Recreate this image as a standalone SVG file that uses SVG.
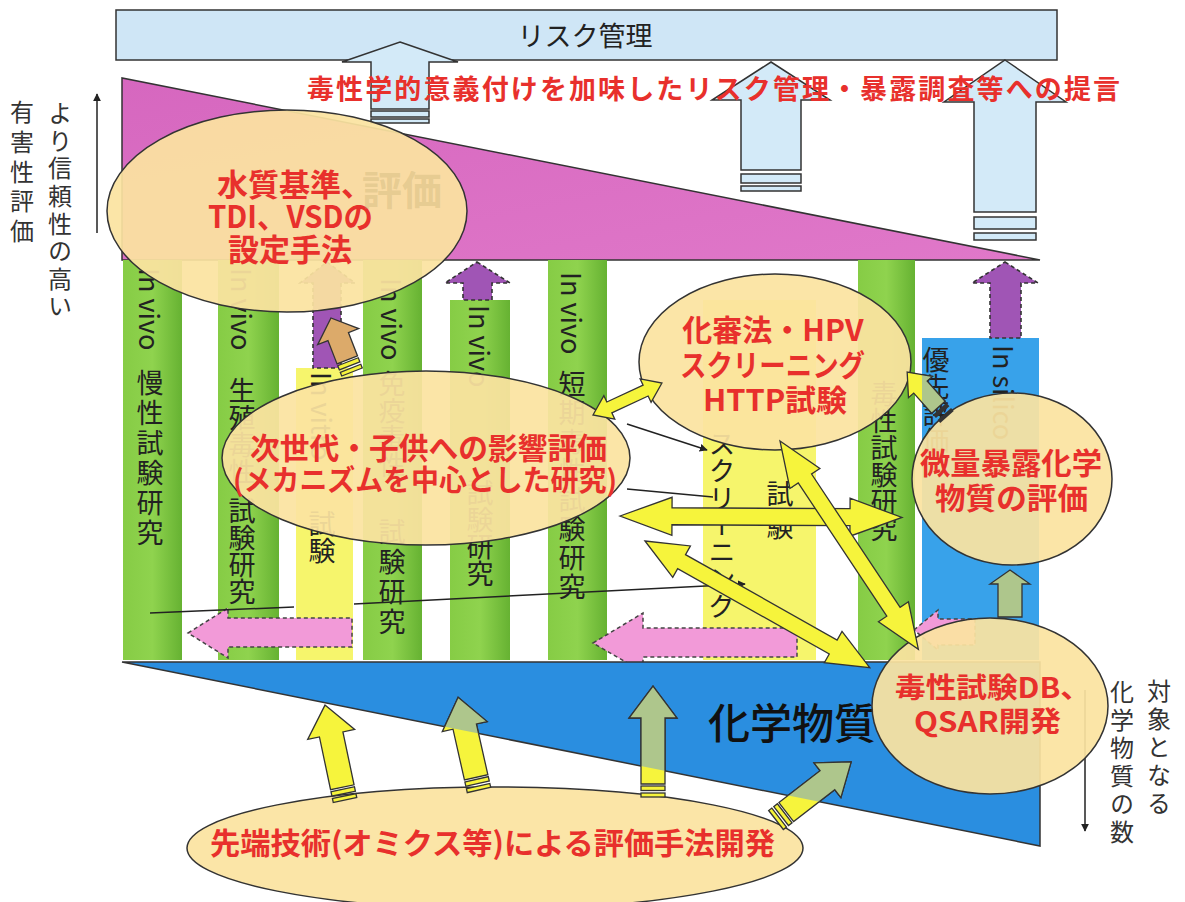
<svg xmlns="http://www.w3.org/2000/svg" width="1185" height="902" viewBox="0 0 1185 902">
<style>
.jp{font-family:"Noto Sans CJK JP","Noto Sans",sans-serif}
.ct{font-family:"Noto Sans CJK JP","Noto Sans",sans-serif;font-size:27px;fill:#222;writing-mode:vertical-rl}
.lab{font-family:"Noto Sans CJK JP","Noto Sans",sans-serif;font-size:24px;fill:#333;writing-mode:vertical-rl}
.et{font-family:"Noto Sans CJK JP","Noto Sans",sans-serif;font-weight:700;fill:#e8302c}
.ell{fill:#fbe3a0;fill-opacity:0.93;stroke:#333;stroke-width:1.5}
.lb{fill:#d3eaf8;stroke:#333;stroke-width:1.5}
.ya{fill:#f6f43c;stroke:#333;stroke-width:1.3;stroke-linejoin:miter}
.ga{fill:#aec68c;stroke:#333;stroke-width:1.3}
.pa{fill:#a055b5;stroke:#333;stroke-width:1.6;stroke-dasharray:4 3}
.ka{fill:#f29ad8;stroke:#444;stroke-width:1.5;stroke-dasharray:4 3}
.ln{fill:none;stroke:#222;stroke-width:1.5}
.green{fill:url(#gg)}
.yel{fill:#f6f56c}
</style>
<defs>
<linearGradient id="gg" x1="0" y1="0" x2="1" y2="0">
<stop offset="0" stop-color="#86cc45"/><stop offset="0.5" stop-color="#8fd34e"/><stop offset="1" stop-color="#66b232"/>
</linearGradient>
<linearGradient id="pk" x1="0" y1="0" x2="1" y2="1">
<stop offset="0" stop-color="#d667bf"/><stop offset="1" stop-color="#e078c9"/>
</linearGradient>
<marker id="ah" viewBox="0 0 10 10" refX="9" refY="5" markerWidth="8" markerHeight="8" orient="auto" markerUnits="userSpaceOnUse">
<path d="M0,0 L10,5 L0,10 Z" fill="#222"/>
</marker>
<clipPath id="blueClip"><polygon points="122,662 1040,662 1040,846"/></clipPath>
<clipPath id="colClip"><rect x="922" y="338" width="117" height="322"/></clipPath>
</defs>

<g id="risk-management">
<rect x="116" y="10" width="941" height="50" fill="#cfe6f6" stroke="#333" stroke-width="1.5"/>
<text class="jp" x="585" y="46" font-size="27" fill="#222" text-anchor="middle">リスク管理</text>
</g>

<g id="up-arrows-top">
<path class="lb" d="M400,42 L458,62 L429,62 L429,109 L371,109 L371,62 L342,62 Z"/>
<rect class="lb" x="371" y="111" width="58" height="6"/>
<rect class="lb" x="371" y="119" width="58" height="4"/>
<path class="lb" d="M771,62 L830,100 L801,100 L801,170 L741,170 L741,100 L712,100 Z"/>
<rect class="lb" x="741" y="174" width="60" height="9"/>
<rect class="lb" x="741" y="186" width="60" height="5"/>
<path class="lb" d="M1005,60 L1066,102 L1036,102 L1036,212 L974,212 L974,102 L944,102 Z"/>
<rect class="lb" x="974" y="217" width="62" height="12"/>
<rect class="lb" x="974" y="233" width="62" height="7"/>
</g>

<g id="proposal">
<text class="et" x="307" y="99" font-size="27" textLength="813" lengthAdjust="spacing">毒性学的意義付けを加味したリスク管理・暴露調査等への提言</text>
</g>

<g id="hazard-triangle">
<polygon points="122,78 122,260 1040,260" fill="url(#pk)" stroke="#333" stroke-width="1.5"/>
</g>

<g id="axis-left">
<line class="ln" x1="97" y1="233" x2="97" y2="94" marker-end="url(#ah)"/>
<text class="lab" x="60" y="101" letter-spacing="3.6">より信頼性の高い</text>
<text class="lab" x="22" y="100" letter-spacing="5.7">有害性評価</text>
</g>

<g id="columns">
<g id="col1"><rect class="green" x="123" y="260" width="59" height="400"/>
<text class="ct" x="150" y="268">In vivo</text><text class="ct" x="150" y="369" letter-spacing="3">慢性試験研究</text></g>
<g id="col2"><rect class="green" x="218" y="260" width="61" height="400"/>
<text class="ct" x="242" y="268">In vivo</text><text class="ct" x="242" y="377">生殖毒性</text><text class="ct" x="242" y="497">試験研究</text></g>
<g id="col3"><rect class="yel" x="296" y="368" width="57" height="292"/>
<text class="ct" x="322" y="372">In vitro</text><text class="ct" x="322" y="510">試験</text></g>
<g id="col4"><rect class="green" x="363" y="260" width="59" height="400"/>
<text class="ct" x="392" y="278">In vivo</text><text class="ct" x="392" y="370">免疫毒性</text><text class="ct" x="392" y="518" letter-spacing="3">試験研究</text></g>
<g id="col5"><rect class="green" x="450" y="300" width="60" height="360"/>
<text class="ct" x="480" y="305">In vivo</text><text class="ct" x="480" y="479">試験研究</text></g>
<g id="col6"><rect class="green" x="548" y="260" width="59" height="400"/>
<text class="ct" x="572" y="272">In vivo</text><text class="ct" x="572" y="370" letter-spacing="2">短期毒性試験研究</text></g>
<g id="col7"><rect class="yel" x="703" y="300" width="113" height="360"/>
<text class="ct" x="722" y="430">スクリーニング</text><text class="ct" x="780" y="480" letter-spacing="6">試験</text></g>
<g id="col8"><rect class="green" x="858" y="260" width="57" height="400"/>
<text class="ct" x="884" y="380">毒性試験研究</text></g>
<g id="col9"><rect x="922" y="338" width="117" height="322" fill="#38a2ea"/>
<text class="ct" x="936" y="346">優先評価</text><text class="ct" x="1004" y="345">In silico</text></g>
</g>

<g id="purple-arrows">
<path class="pa" d="M327,262 L355,283 L341,283 L341,368 L313,368 L313,283 L300,283 Z"/>
<path class="pa" d="M477,262 L510,283 L492,283 L492,300 L463,300 L463,283 L445,283 Z"/>
<path class="pa" d="M1005,262 L1038,283 L1021,283 L1021,338 L990,338 L990,283 L972,283 Z"/>
</g>

<g id="pink-arrows">
<path class="ka" d="M188,633 L228,608 L228,618 L352,618 L352,647 L228,647 L228,658 Z"/>
<path class="ka" d="M593,643 L643,613 L643,628 L797,628 L797,657 L643,657 L643,672 Z"/>
<path class="ka" d="M914,630 L938,610 L938,619 L975,619 L975,645 L938,645 L938,650 Z"/>
</g>

<g id="chemicals-triangle">
<polygon points="122,662 1040,662 1040,846" fill="#2a8ee0" stroke="#333" stroke-width="1.5"/>
<text class="jp" x="708" y="739" font-size="42" font-weight="500" fill="#111">化学物質</text>
</g>

<g id="axis-right">
<line class="ln" x1="1085" y1="690" x2="1085" y2="831" marker-end="url(#ah)"/>
<text class="lab" x="1159" y="679" font-size="25" letter-spacing="4">対象となる</text>
<text class="lab" x="1122" y="680" font-size="25" letter-spacing="4">化学物質の数</text>
</g>

<g id="node-water-quality">
<ellipse class="ell" cx="287" cy="211" rx="180" ry="101"/>
<text class="et" x="217" y="196" font-size="31">水質基準、</text>
<text class="et" x="208" y="228" font-size="31" textLength="165" lengthAdjust="spacingAndGlyphs">TDI、VSDの</text>
<text class="et" x="228" y="261" font-size="31">設定手法</text>
</g>
<text class="jp" x="362" y="205" font-size="40" font-weight="700" fill="#b9a66a" fill-opacity="0.3">評価</text>

<g id="node-next-generation">
<ellipse class="ell" cx="426" cy="458" rx="204" ry="87"/>
<text class="et" x="250" y="459" font-size="30" textLength="357" lengthAdjust="spacingAndGlyphs">次世代・子供への影響評価</text>
<text class="et" x="233" y="491" font-size="29" textLength="384" lengthAdjust="spacingAndGlyphs">(メカニズムを中心とした研究)</text>
</g>

<g id="node-kashinho">
<ellipse class="ell" cx="775" cy="362" rx="136" ry="88"/>
<text class="et" x="773" y="341" font-size="30" text-anchor="middle">化審法・HPV</text>
<text class="et" x="680" y="376" font-size="30" textLength="185" lengthAdjust="spacingAndGlyphs">スクリーニング</text>
<text class="et" x="703" y="411" font-size="30" textLength="144" lengthAdjust="spacingAndGlyphs">HTTP試験</text>
</g>

<g id="node-trace-exposure">
<ellipse class="ell" cx="1012" cy="479" rx="100" ry="86"/>
<text class="et" x="920" y="474" font-size="30" textLength="182" lengthAdjust="spacingAndGlyphs">微量暴露化学</text>
<text class="et" x="935" y="509" font-size="30" textLength="153" lengthAdjust="spacingAndGlyphs">物質の評価</text>
</g>

<g id="node-toxdb">
<ellipse class="ell" cx="990" cy="706" rx="118" ry="88"/>
<text class="et" x="895" y="698" font-size="28" textLength="196" lengthAdjust="spacingAndGlyphs">毒性試験DB、</text>
<text class="et" x="914" y="732" font-size="28" textLength="147" lengthAdjust="spacingAndGlyphs">QSAR開発</text>
</g>

<g id="node-advanced-tech">
<ellipse class="ell" cx="495" cy="848" rx="308" ry="61"/>
<text class="et" x="210" y="854" font-size="30" textLength="565" lengthAdjust="spacingAndGlyphs">先端技術(オミクス等)による評価手法開発</text>
</g>

<g id="connectors">
<line class="ln" x1="150" y1="613" x2="294" y2="607"/>
<line class="ln" x1="354" y1="604" x2="745" y2="584" marker-end="url(#ah)"/>
<line class="ln" x1="627" y1="424" x2="707" y2="450" marker-end="url(#ah)"/>
<line class="ln" x1="627" y1="489" x2="713" y2="497"/>

<g transform="translate(352,372) rotate(-111.3)">
<path d="M13,-11 L38,-11 L38,-22 L58,0 L38,22 L38,11 L13,11 Z" fill="#dcaa6a" stroke="#333" stroke-width="1.3"/>
<rect class="ya" x="0" y="-11" width="4" height="22" stroke-width="2"/><rect class="ya" x="6.5" y="-11" width="4.5" height="22" stroke-width="2"/>
</g>

<path class="ya" transform="translate(593,415) rotate(-24.9)" d="M0,0 L18,-13 L18,-6 L58,-6 L58,-13 L76,0 L58,13 L58,6 L18,6 L18,13 Z"/>
<path class="ya" transform="translate(620,516) rotate(0.3)" d="M0,0 L52,-19 L52,-8.5 L230,-8.5 L230,-19 L282,0 L230,19 L230,8.5 L52,8.5 L52,19 Z"/>
<path class="ya" transform="translate(645,541) rotate(29.4)" d="M0,0 L42,-18 L42,-8 L216,-8 L216,-18 L258,0 L216,18 L216,8 L42,8 L42,18 Z"/>
<path class="ya" transform="translate(780,441) rotate(56.4)" d="M0,0 L45,-18 L45,-8 L205,-8 L205,-18 L250,0 L205,18 L205,8 L45,8 L45,18 Z"/>

<g id="arrow-E">
<g transform="translate(947,417) rotate(-131.6)">
<path class="ya" d="M13,-9 L40,-9 L40,-16 L60,0 L40,16 L40,9 L13,9 Z"/>
<rect x="0" y="-9" width="4" height="18" fill="#333"/><rect x="6.5" y="-9" width="4.5" height="18" fill="#333"/>
</g>
<g clip-path="url(#colClip)"><path class="ga" transform="translate(947,417) rotate(-131.6)" d="M13,-9 L40,-9 L40,-16 L60,0 L40,16 L40,9 L13,9 Z"/></g>
</g>

<path class="ga" d="M1010,570 L1030,584 L1022,584 L1022,617 L998,617 L998,584 L990,584 Z"/>

<g id="bottom-arrows">
<g transform="translate(345,800) rotate(-101.9)"><path class="ya" d="M13,-12 L67,-12 L67,-24 L97,0 L67,24 L67,12 L13,12 Z"/><rect class="ya" x="0" y="-12" width="4" height="24"/><rect class="ya" x="6.5" y="-12" width="4.5" height="24"/></g>
<g transform="translate(479,790) rotate(-102.7)"><path class="ya" d="M13,-12 L65,-12 L65,-23 L95,0 L65,23 L65,12 L13,12 Z"/><rect class="ya" x="0" y="-12" width="4" height="24"/><rect class="ya" x="6.5" y="-12" width="4.5" height="24"/></g>
<g transform="translate(653,797) rotate(-90)"><path class="ya" d="M13,-12 L79,-12 L79,-24 L111,0 L79,24 L79,12 L13,12 Z"/><rect class="ya" x="0" y="-12" width="4" height="24"/><rect class="ya" x="6.5" y="-12" width="4.5" height="24"/></g>
<g transform="translate(776,820) rotate(-37.7)"><path class="ya" d="M13,-12 L65,-12 L65,-22 L95,0 L65,22 L65,12 L13,12 Z"/><rect class="ya" x="0" y="-12" width="4" height="24"/><rect class="ya" x="6.5" y="-12" width="4.5" height="24"/></g>
<g clip-path="url(#blueClip)">
<path class="ga" transform="translate(345,800) rotate(-101.9)" d="M13,-12 L67,-12 L67,-24 L97,0 L67,24 L67,12 L13,12 Z"/>
<path class="ga" transform="translate(479,790) rotate(-102.7)" d="M13,-12 L65,-12 L65,-23 L95,0 L65,23 L65,12 L13,12 Z"/>
<path class="ga" transform="translate(653,797) rotate(-90)" d="M13,-12 L79,-12 L79,-24 L111,0 L79,24 L79,12 L13,12 Z"/>
<path class="ga" transform="translate(776,820) rotate(-37.7)" d="M13,-12 L65,-12 L65,-22 L95,0 L65,22 L65,12 L13,12 Z"/>
</g>
</g>
</g>
</svg>
